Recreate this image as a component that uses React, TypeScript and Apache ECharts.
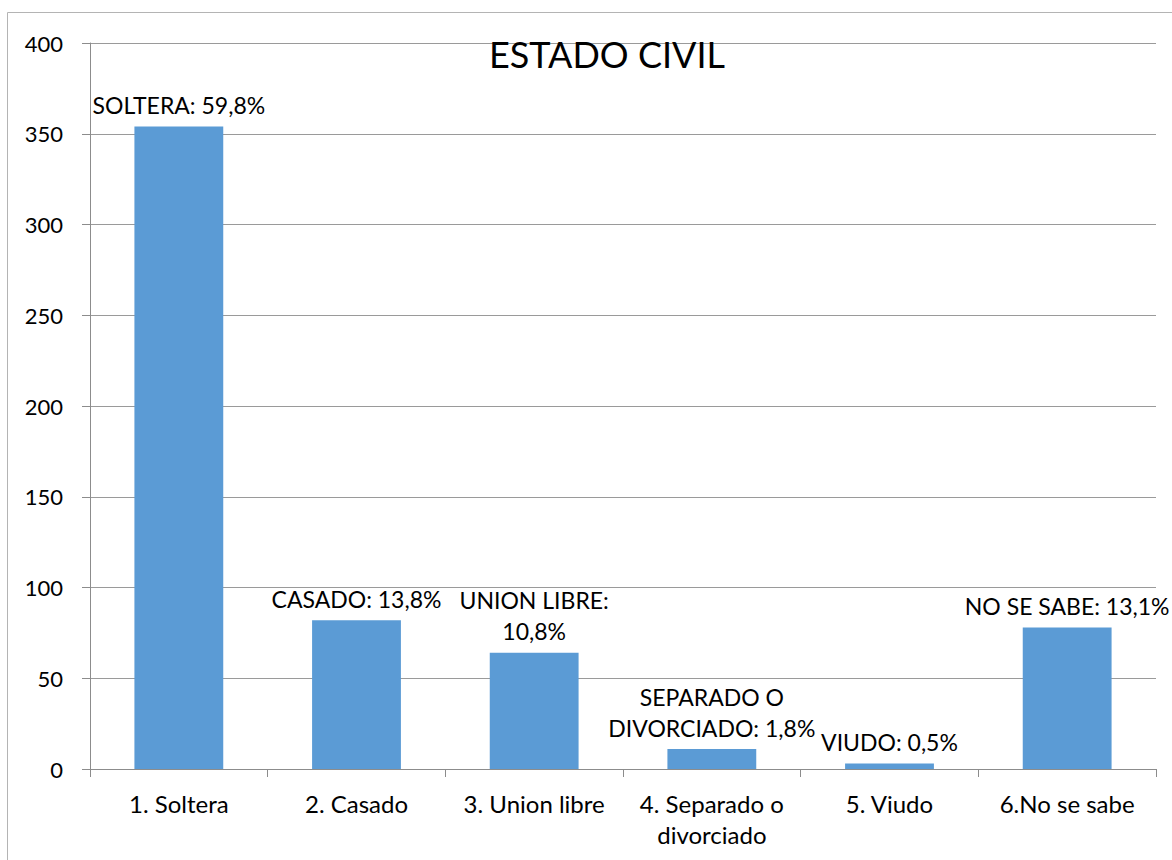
import React, { useEffect, useRef } from "react";
import * as echarts from "echarts";

const categories = [
  "1. Soltera",
  "2. Casado",
  "3. Union libre",
  "4. Separado o\ndivorciado",
  "5. Viudo",
  "6.No se sabe",
];
const values = [354, 82, 64, 11, 3, 78];
const dataLabels = [
  "SOLTERA: 59,8%",
  "CASADO: 13,8%",
  "UNION LIBRE:\n10,8%",
  "SEPARADO O\nDIVORCIADO: 1,8%",
  "VIUDO: 0,5%",
  "NO SE SABE: 13,1%",
];
const title = "ESTADO CIVIL";

const FONT = "Lato, 'Open Sans', sans-serif";

export default function App() {
  const ref = useRef<HTMLDivElement>(null);
  useEffect(() => {
    if (!ref.current) return;
    const chart = echarts.init(ref.current, undefined, { renderer: "svg" });
    chart.setOption({
      animation: false,
      backgroundColor: "#ffffff",
      title: {
        text: title,
        left: 602,
        textAlign: "center",
        top: 31,
        textStyle: { fontFamily: FONT, fontSize: 36, fontWeight: "normal", color: "#000" },
      },
      graphic: [
        {
          type: "rect",
          shape: { x: 7.5, y: 12.5, width: 1200, height: 900 },
          style: { fill: "none", stroke: "#b4b4b4", lineWidth: 1 },
          silent: true,
        },
      ],
      grid: { left: 90, right: 16, top: 43, bottom: 91, containLabel: false },
      xAxis: {
        type: "category",
        data: categories,
        axisLine: { lineStyle: { color: "#8c8c8c", width: 1 } },
        axisTick: { show: true, length: 8, alignWithLabel: false, lineStyle: { color: "#8c8c8c" } },
        axisLabel: {
          fontFamily: FONT,
          fontSize: 24,
          color: "#000",
          margin: 19,
          lineHeight: 31,
          interval: 0,
        },
      },
      yAxis: {
        type: "value",
        min: 0,
        max: 400,
        interval: 50,
        axisLine: { show: true, lineStyle: { color: "#8c8c8c", width: 1 } },
        axisTick: { show: true, length: 8, lineStyle: { color: "#8c8c8c" } },
        splitLine: { lineStyle: { color: "#9a9a9a", width: 1 } },
        axisLabel: { fontFamily: FONT, fontSize: 22, color: "#000", margin: 27 },
      },
      series: [
        {
          type: "bar",
          data: values,
          barWidth: "50%",
          itemStyle: { color: "#5b9bd5" },
          label: {
            show: true,
            position: "top",
            distance: 6,
            fontFamily: FONT,
            fontSize: 23,
            lineHeight: 31,
            color: "#000",
            formatter: (p: any) => dataLabels[p.dataIndex],
          },
        },
      ],
    });
    return () => chart.dispose();
  }, []);
  return (
    <div
      ref={ref}
      style={{ position: "fixed", left: 0, top: 0, width: 1172, height: 860 }}
    />
  );
}
